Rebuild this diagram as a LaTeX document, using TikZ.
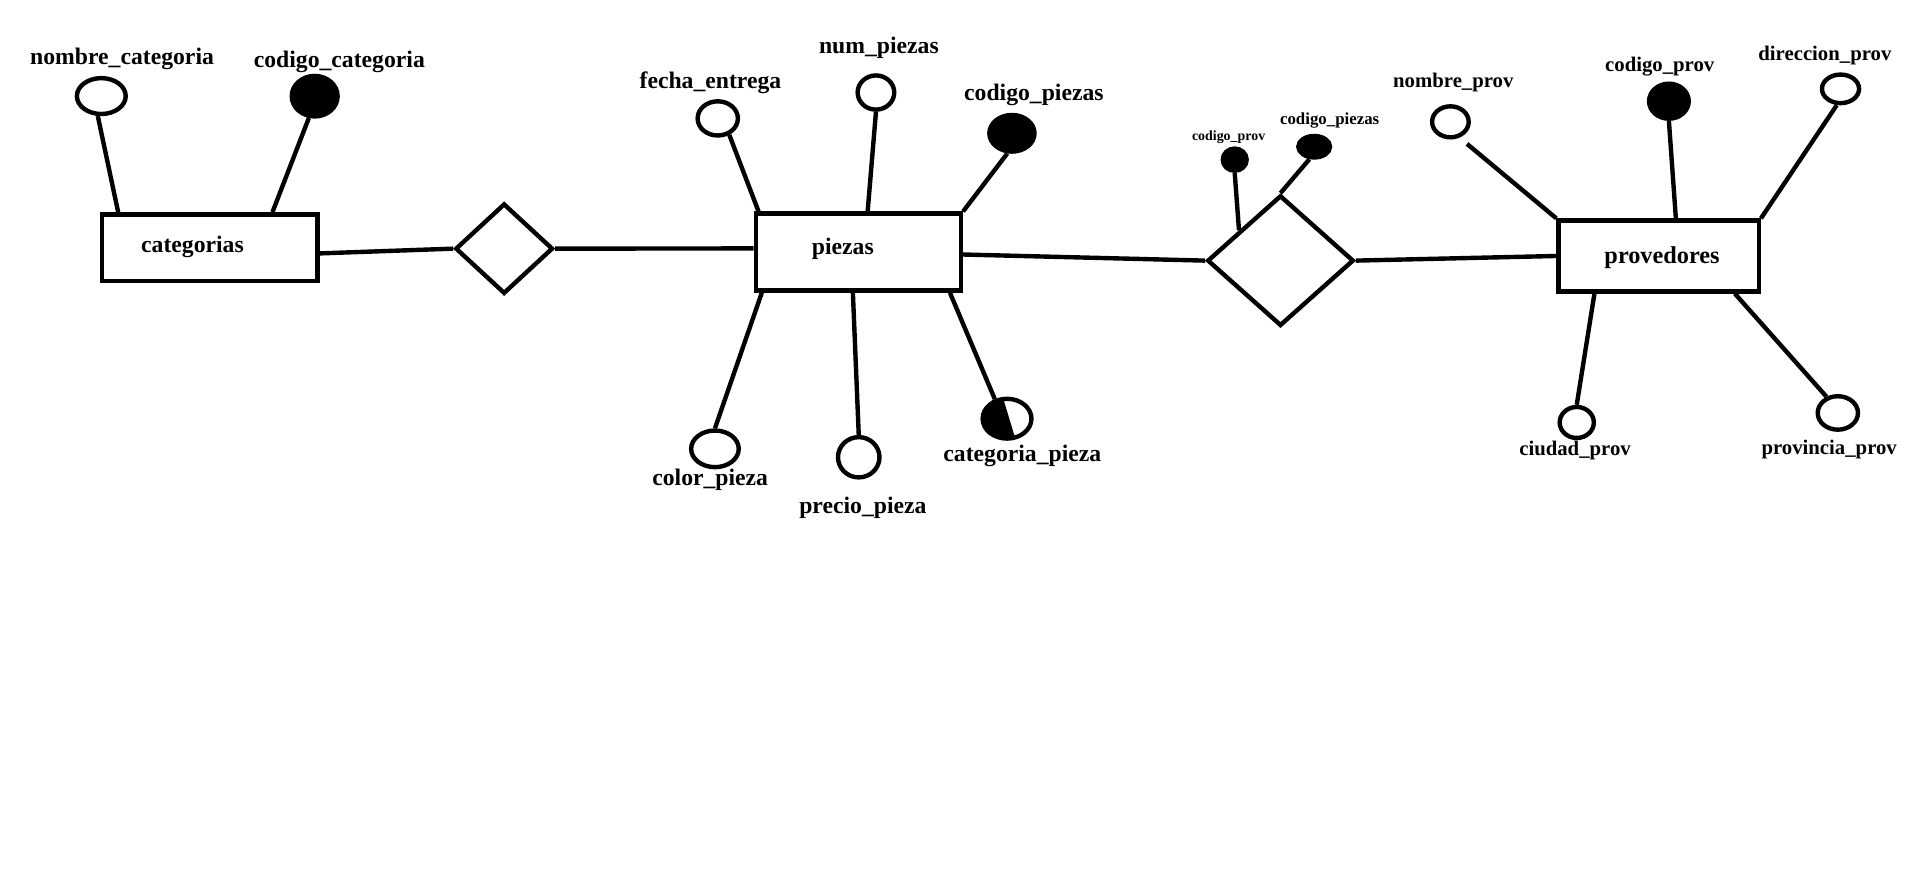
\documentclass[tikz,border=0pt]{standalone}
\usepackage{fontspec}
\setmainfont{Liberation Serif}
\usetikzlibrary{shapes.geometric,calc}
\tikzset{
  ent/.style={draw, rectangle, line width=3.6pt, inner sep=0pt},
  rel/.style={draw, diamond, line width=3.6pt, inner sep=0pt},
  att/.style={draw, ellipse, line width=3.6pt, inner sep=0pt},
  keyatt/.style={att, fill=black},
  conn/.style={line width=3.6pt},
  lbl/.style={inner sep=0pt, font=\fontsize{19.4pt}{22pt}\selectfont\bfseries},
  lblp/.style={inner sep=0pt, font=\fontsize{17pt}{20pt}\selectfont\bfseries},
}
\begin{document}
\begin{tikzpicture}[x=1pt,y=-1pt]
\useasboundingbox (0,0) rectangle (1568,714.4);
% entities
\node[ent, minimum width=176.4pt, minimum height=54.4pt] (cat) at (171.8,202.8) {};
\node[lbl] (catt) at (157.7,202.4) {categorias};
\node[ent, minimum width=168pt, minimum height=63pt] (pz) at (703.2,206.5) {};
\node[lbl] (pzt) at (690.5,204) {piezas};
\node[ent, minimum width=164pt, minimum height=58pt] (pv) at (1358.8,209.7) {};
\node[inner sep=0pt, font=\fontsize{19.9pt}{22pt}\selectfont\bfseries] (pvt) at (1361.6,211) {provedores};
% relationships
\node[rel, minimum width=80pt, minimum height=74pt] (d1) at (413,203.7) {};
\node[rel, minimum width=120pt, minimum height=107pt] (d2) at (1049,213.5) {};
% categorias attributes
\node[att, minimum width=40pt, minimum height=29.4pt] (nc) at (83,78.7) {};
\node[lbl] (nct) at (100,48.5) {nombre\_categoria};
\node[keyatt, minimum width=37.6pt, minimum height=33.2pt] (cc) at (257.8,78.8) {};
\node[lbl] (cct) at (278,50.5) {codigo\_categoria};
% piezas attributes
\node[att, minimum width=33pt, minimum height=28pt] (fe) at (588,97) {};
\node[lbl] (fet) at (582,67.5) {fecha\_entrega};
\node[att, minimum width=30pt, minimum height=28pt] (np) at (717.6,75.8) {};
\node[lbl] (npt) at (720,39) {num\_piezas};
\node[keyatt, minimum width=37pt, minimum height=30pt] (cpz) at (829,109.2) {};
\node[lbl] (cpzt) at (847,77.6) {codigo\_piezas};
\node[att, minimum width=39pt, minimum height=30pt] (col) at (585.7,367.7) {};
\node[lbl] (colt) at (581.8,392.9) {color\_pieza};
\node[att, minimum width=34pt, minimum height=33pt] (pre) at (703.5,374.6) {};
\node[lbl] (pret) at (706.9,416.4) {precio\_pieza};
\coordinate (cpc) at (825,343);
\begin{scope}
  \clip (cpc) ellipse [x radius=20pt, y radius=16.3pt];
  \fill ($(cpc)+(-4.2,-20)$) -- ($(cpc)+(7.9,20)$) -- ($(cpc)+(-30,20)$) -- ($(cpc)+(-30,-20)$) -- cycle;
\end{scope}
\node[att, minimum width=40pt, minimum height=32.6pt] (catp) at (cpc) {};
\node[lbl] (catpt) at (837.5,373.7) {categoria\_pieza};
% relationship attributes
\node[keyatt, minimum width=19.6pt, minimum height=18.2pt] (scp) at (1011.5,130.8) {};
\node[inner sep=0pt, font=\fontsize{11.4pt}{13pt}\selectfont\bfseries] (scpt) at (1006.5,112) {codigo\_prov};
\node[keyatt, minimum width=26pt, minimum height=17.6pt] (scz) at (1076.6,120.2) {};
\node[inner sep=0pt, font=\fontsize{13.8pt}{16pt}\selectfont\bfseries] (sczt) at (1089.3,99) {codigo\_piezas};
% provedores attributes
\node[att, minimum width=30pt, minimum height=25.4pt] (npv) at (1188.2,99.8) {};
\node[lblp] (npvt) at (1190.6,67.9) {nombre\_prov};
\node[keyatt, minimum width=32.5pt, minimum height=28.7pt] (cpv) at (1367.2,82.9) {};
\node[lblp] (cpvt) at (1359.7,54.2) {codigo\_prov};
\node[att, minimum width=30.4pt, minimum height=23.4pt] (dp) at (1507.8,72.8) {};
\node[lblp] (dpt) at (1495,45.3) {direccion\_prov};
\node[att, minimum width=28pt, minimum height=25.4pt] (cdp) at (1291.7,346.1) {};
\node[lblp] (cdpt) at (1290.3,369.1) {ciudad\_prov};
\node[att, minimum width=33pt, minimum height=27.4pt] (prp) at (1505.6,338.3) {};
\node[lblp] (prpt) at (1498.5,368.3) {provincia\_prov};
% connectors
\draw[conn] (nc.-100) -- ($(cat.north west)+(15,0)$);
\draw[conn] (cc.-105) -- ($(cat.north east)+(-38.6,0)$);
\draw[conn] ($(cat.east)+(0,4.8)$) -- (d1.west);
\draw[conn] (d1.east) -- ($(pz.west)+(0,-3)$);
\draw[conn] (fe.-55) -- ($(pz.north west)+(4,0)$);
\draw[conn] (np.south) -- ($(pz.north west)+(93.4,0)$);
\draw[conn] (cpz.-103) -- (pz.north east);
\draw[conn] ($(pz.south west)+(6.7,0)$) -- (col.north);
\draw[conn] ($(pz.south west)+(81.3,0)$) -- (pre.north);
\draw[conn] ($(pz.south east)+(-10.8,0)$) -- (catp.122);
\draw[conn] ($(pz.east)+(0,2)$) -- (d2.west);
\draw[conn] (scp.south) -- ($(d2.west)!0.45!(d2.north)$);
\draw[conn] (scz.-111) -- (d2.north);
\draw[conn] (d2.east) -- (pv.west);
\draw[conn, shorten <=8pt] (npv.-60) -- (pv.north west);
\draw[conn] (cpv.south) -- ($(pv.north west)+(97.9,0)$);
\draw[conn] (dp.-103) -- (pv.north east);
\draw[conn] ($(pv.south west)+(31.2,0)$) -- (cdp.north);
\draw[conn] ($(pv.south east)+(-21.4,0)$) -- (prp.125);
\end{tikzpicture}
\end{document}
